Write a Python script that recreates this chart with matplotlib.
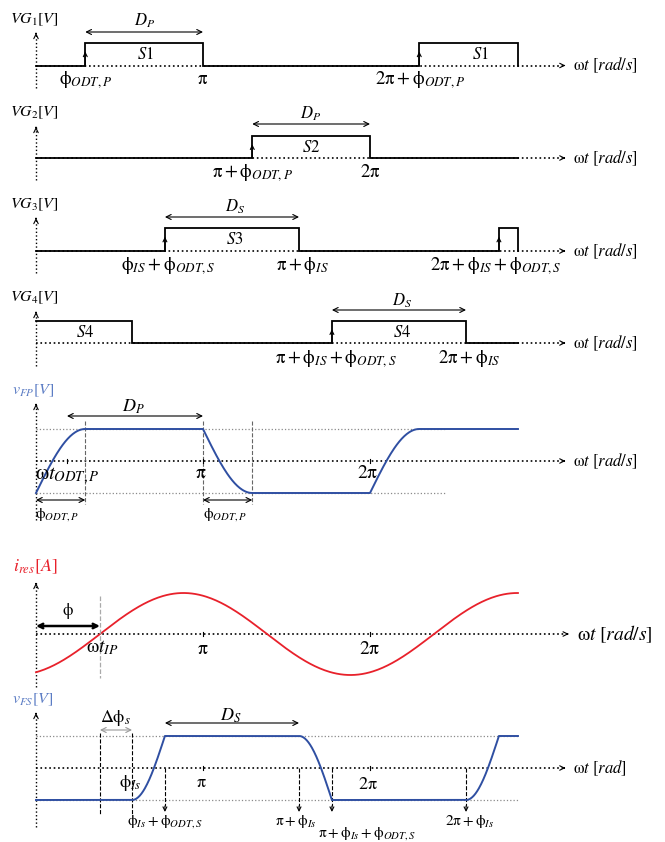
import numpy as np
import matplotlib
matplotlib.use("Agg")
import matplotlib.pyplot as plt

plt.rcParams['mathtext.fontset'] = 'stix'
plt.rcParams['font.family'] = ['STIXGeneral', 'DejaVu Serif']

# ---------------- data (angles in units of pi) ----------------
phi_odt_p = 0.295      # primary dead-time angle
phi_is = 0.575         # secondary phase shift
phi_odt_s = 0.197      # secondary dead-time angle
phi_ip = 0.383         # current zero crossing (phi)
x_end = 2.886          # end of drawn waveforms
x_axis_end = 3.17      # end of the horizontal axes

vg1_high = [(phi_odt_p, 1.0), (2 + phi_odt_p, x_end)]
vg2_high = [(1 + phi_odt_p, 2.0)]
vg3_high = [(phi_is + phi_odt_s, 1 + phi_is), (2 + phi_is + phi_odt_s, x_end)]
vg4_high = [(0.0, phi_is), (1 + phi_is + phi_odt_s, 2 + phi_is)]
i_amp = 1.0

W, H = 665, 842
fig = plt.figure(figsize=(W / 100, H / 100), dpi=100)
fig.patch.set_facecolor('white')

PX0, PXU = 36.0, 167.0
XL0, XL1 = -PX0 / PXU, (W - PX0) / PXU


def X(xp):
    return (xp - PX0) / PXU


class Panel:
    def __init__(self, y0, unit):
        self.y0, self.unit = y0, unit
        ax = fig.add_axes([0, 0, 1, 1])
        ax.set_xlim(XL0, XL1)
        ax.set_ylim((y0 - H) / unit, y0 / unit)
        ax.axis('off')
        ax.patch.set_alpha(0)
        self.ax = ax

    def Y(self, yp):
        return (self.y0 - yp) / self.unit

    def text(self, xp, yp, s, **kw):
        kw.setdefault('ha', 'center')
        kw.setdefault('va', 'center')
        kw.setdefault('fontsize', 11)
        self.ax.text(X(xp), self.Y(yp), s, **kw)

    def axes(self, ytop, ybot, label, lx, ly, color='black', lsize=11.5,
             axlab=r'$\mathrm{\omega} t\ [rad/s]$', axsize=12, xend=x_axis_end):
        ax = self.ax
        ax.plot([0, 0], [self.Y(ybot), self.Y(ytop)], ':', color='black', lw=1.0)
        ax.annotate('', xy=(0, self.Y(ytop)), xytext=(0, self.Y(ytop) - 0.02),
                    arrowprops=dict(arrowstyle='->', lw=0.8, color='black',
                                    mutation_scale=8))
        ax.plot([0, xend], [0, 0], ':', color='black', lw=1.2)
        ax.annotate('', xy=(xend, 0), xytext=(xend - 0.01, 0),
                    arrowprops=dict(arrowstyle='->', lw=0.8, color='black',
                                    mutation_scale=8))
        ax.text(xend + X(PX0 + 8), 0, axlab, ha='left', va='center', fontsize=axsize)
        self.text(lx, ly, label, ha='left', color=color, fontsize=lsize)

    def darrow(self, x1, x2, yp, color='black', lw=0.8, ms=9):
        self.ax.annotate('', xy=(x2, self.Y(yp)), xytext=(x1, self.Y(yp)),
                         arrowprops=dict(arrowstyle='<->', lw=lw, color=color,
                                         mutation_scale=ms, shrinkA=0, shrinkB=0))


def gate_wave(highs):
    xs, ys = [0.0], [0.0]
    for a, b in highs:
        xs += [a, a, b, b]
        ys += [ys[-1], 1.0, 1.0, 0.0]
    if xs[-1] < x_end:
        xs.append(x_end)
        ys.append(ys[-1])
    return np.array(xs), np.array(ys)


def gate_panel(y0, unit, highs, label, lab_y, ytop, ybot):
    p = Panel(y0, unit)
    p.axes(ytop, ybot, label, 10, lab_y)
    xs, ys = gate_wave(highs)
    if highs[0][0] == 0.0:
        ys[0] = 1.0
        ys[1] = 1.0
    p.ax.plot(xs, ys, '-', color='black', lw=1.3, solid_joinstyle='miter')
    for a, b in highs:
        if a > 0:
            p.ax.annotate('', xy=(a, 0.62), xytext=(a, 0.0),
                          arrowprops=dict(arrowstyle='->', lw=0.8, color='black',
                                          mutation_scale=7, shrinkA=0, shrinkB=0))
    return p


PHI = r'\mathrm{\phi}'
PI = r'\mathrm{\pi}'
ES = 13.5  # edge label size

# ---------------- VG1 ----------------
p1 = gate_panel(65.5, 22.5, vg1_high, r'$VG_1[V]$', 20, 33, 88)
p1.darrow(vg1_high[0][0], vg1_high[0][1], 32)
p1.text(145, 21, r'$D_P$', fontsize=12)
p1.text(145, 55, r'$S1$', fontsize=12)
p1.text(480, 55, r'$S1$', fontsize=12)
p1.text(86, 80, r'$%s_{ODT,P}$' % PHI, fontsize=ES)
p1.text(203, 79, r'$%s$' % PI, fontsize=ES)
p1.text(420, 80, r'$2%s+%s_{ODT,P}$' % (PI, PHI), fontsize=ES)

# ---------------- VG2 ----------------
p2 = gate_panel(158, 22, vg2_high, r'$VG_2[V]$', 113, 127, 180)
p2.darrow(vg2_high[0][0], vg2_high[0][1], 124)
p2.text(311, 114, r'$D_P$', fontsize=12)
p2.text(311, 148, r'$S2$', fontsize=12)
p2.text(253, 173, r'$%s+%s_{ODT,P}$' % (PI, PHI), fontsize=ES)
p2.text(370, 172, r'$2%s$' % PI, fontsize=ES)

# ---------------- VG3 ----------------
p3 = gate_panel(251, 23, vg3_high, r'$VG_3[V]$', 205, 218, 273)
p3.darrow(vg3_high[0][0], vg3_high[0][1], 217)
p3.text(235, 207, r'$D_S$', fontsize=12)
p3.text(235, 240, r'$S3$', fontsize=12)
p3.text(168, 266, r'$%s_{IS}+%s_{ODT,S}$' % (PHI, PHI), fontsize=ES)
p3.text(302, 266, r'$%s+%s_{IS}$' % (PI, PHI), fontsize=ES)
p3.text(496, 266, r'$2%s+%s_{IS}+%s_{ODT,S}$' % (PI, PHI, PHI), fontsize=ES)

# ---------------- VG4 ----------------
p4 = gate_panel(343, 22, vg4_high, r'$VG_4[V]$', 298, 312, 366)
p4.darrow(vg4_high[1][0], vg4_high[1][1], 310)
p4.text(402, 301, r'$D_S$', fontsize=12)
p4.text(85, 333, r'$S4$', fontsize=12)
p4.text(402, 333, r'$S4$', fontsize=12)
p4.text(336, 359, r'$%s+%s_{IS}+%s_{ODT,S}$' % (PI, PHI, PHI), fontsize=ES)
p4.text(469, 359, r'$2%s+%s_{IS}$' % (PI, PHI), fontsize=ES)

# ---------------- vFP ----------------
BLUE = '#2f4fa2'
BLUE_L = '#5b7cc4'
GREY = '#8a8a8a'
p5 = Panel(461, 32)
p5.axes(404, 520, r'$v_{FP}[V]$', 12, 391, color=BLUE_L, lsize=11.5)
s = np.linspace(0, 1, 60)
up_fast = -1 + 2 * np.sin(np.pi * s / 2)
dn_fast = 1 - 2 * np.sin(np.pi * s / 2)
vfp_x = np.concatenate([phi_odt_p * s, [1.0], 1 + phi_odt_p * s, [2.0],
                        2 + phi_odt_p * s, [x_end]])
vfp_y = np.concatenate([up_fast, [1.0], dn_fast, [-1.0], up_fast, [1.0]])
ax5 = p5.ax
for lv in (1, -1):
    ax5.plot([0, 2.45], [lv, lv], ':', color=GREY, lw=0.9)
for xv in (phi_odt_p, 1.0, 1 + phi_odt_p):
    ax5.plot([xv, xv], [p5.Y(421), p5.Y(504)], '--', color='#666666', lw=0.8)
for xv in (X(67), 1.0, 2.0):
    ax5.plot([xv, xv], [-0.07, 0.07], '-', color='black', lw=0.8)
ax5.plot(vfp_x, vfp_y, '-', color=BLUE, lw=1.4)
p5.darrow(X(67), 1.0, 416)
p5.text(133, 407, r'$D_P$', fontsize=13)
p5.text(35, 476, r'$\mathrm{\omega} t_{ODT,P}$', ha='left', fontsize=15)
p5.text(201, 473, r'$%s$' % PI, fontsize=14)
p5.text(368, 473, r'$2%s$' % PI, fontsize=14)
p5.darrow(0, phi_odt_p, 500)
p5.darrow(1.0, 1 + phi_odt_p, 500)
p5.text(57, 515, r'$%s_{ODT,P}$' % PHI, fontsize=11)
p5.text(225, 515, r'$%s_{ODT,P}$' % PHI, fontsize=11)

# ---------------- i_res ----------------
RED = '#e8212b'
p6 = Panel(634, 41)
p6.axes(583, 687, r'$i_{res}[A]$', 13, 567, color=RED, lsize=13,
        axlab=r'$\mathrm{\omega} t\ [rad/s]$', axsize=14, xend=3.19)
xi = np.linspace(0, x_end, 400)
ax6 = p6.ax
ax6.plot(xi, i_amp * np.sin(np.pi * (xi - phi_ip)), '-', color=RED, lw=1.3)
ax6.plot([phi_ip, phi_ip], [p6.Y(596), p6.Y(678)], '--', color='#aaaaaa', lw=0.9)
for xv in (1.0, 2.0):
    ax6.plot([xv, xv], [-0.06, 0.06], '-', color='black', lw=0.8)
p6.darrow(0, phi_ip, 626, lw=1.8, ms=8)
p6.text(68, 611, r'$%s$' % PHI, fontsize=12)
p6.text(102, 648, r'$\mathrm{\omega} t_{IP}$', fontsize=14)
p6.text(203, 649, r'$%s$' % PI, fontsize=14)
p6.text(370, 649, r'$2%s$' % PI, fontsize=14)

# ---------------- vFS ----------------
p7 = Panel(768, 32)
p7.axes(713, 827, r'$v_{FS}[V]$', 12, 700, color=BLUE_L, lsize=11.5,
        axlab=r'$\mathrm{\omega} t\ [rad]$', axsize=12)
up_slow = -1 + 2 * (1 - np.cos(np.pi * s / 2))
dn_slow = 1 - 2 * (1 - np.cos(np.pi * s / 2))
vfs_x = np.concatenate([[0.0], phi_is + phi_odt_s * s, [1 + phi_is],
                        1 + phi_is + phi_odt_s * s, [2 + phi_is],
                        2 + phi_is + phi_odt_s * s, [x_end]])
vfs_y = np.concatenate([[-1.0], up_slow, [1.0], dn_slow, [-1.0], up_slow, [1.0]])
ax7 = p7.ax
for lv in (1, -1):
    ax7.plot([0, x_end], [lv, lv], ':', color=GREY, lw=0.9)
for xv in (phi_ip, phi_is):
    ax7.plot([xv, xv], [p7.Y(733), p7.Y(815)], '--', color='black', lw=0.8)
for xv in (phi_is + phi_odt_s, 1 + phi_is, 1 + phi_is + phi_odt_s, 2 + phi_is):
    ax7.plot([xv, xv], [0.0, p7.Y(806)], '--', color='black', lw=0.8)
    ax7.annotate('', xy=(xv, p7.Y(812)), xytext=(xv, p7.Y(806)),
                 arrowprops=dict(arrowstyle='->', lw=0.8, color='black',
                                 mutation_scale=7, shrinkA=0, shrinkB=0))
for xv in (1.0, 2.0):
    ax7.plot([xv, xv], [-0.07, 0.07], '-', color='black', lw=0.8)
ax7.plot(vfs_x, vfs_y, '-', color=BLUE, lw=1.4)
p7.darrow(phi_ip, phi_is, 730, color='#999999')
p7.text(116, 718, r'$\Delta%s_s$' % PHI, fontsize=13)
p7.darrow(phi_is + phi_odt_s, 1 + phi_is, 723)
p7.text(231, 716, r'$D_S$', fontsize=13)
p7.text(130, 783, r'$%s_{Is}$' % PHI, fontsize=13)
p7.text(201, 783, r'$%s$' % PI, fontsize=13)
p7.text(368, 785, r'$2%s$' % PI, fontsize=13)
p7.text(165, 822, r'$%s_{Is}+%s_{ODT,S}$' % (PHI, PHI), fontsize=11)
p7.text(296, 822, r'$%s+%s_{Is}$' % (PI, PHI), fontsize=11)
p7.text(367, 834, r'$%s+%s_{Is}+%s_{ODT,S}$' % (PI, PHI, PHI), fontsize=11)
p7.text(470, 822, r'$2%s+%s_{Is}$' % (PI, PHI), fontsize=11)

fig.savefig('out.png', dpi=100, facecolor='white')
